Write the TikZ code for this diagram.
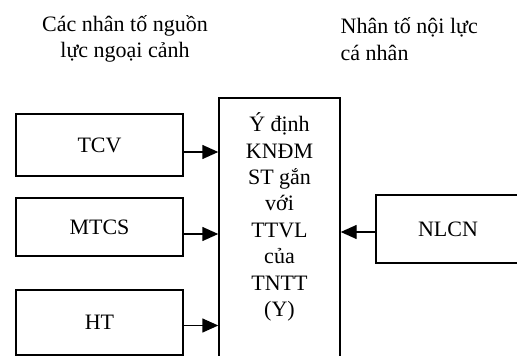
\documentclass[tikz,border=0pt]{standalone}
\usepackage{fontspec}
\setmainfont{Liberation Serif}
\usetikzlibrary{arrows.meta}
\begin{document}
\begin{tikzpicture}[x=1pt,y=-1pt,line width=1.4pt]
  \tikzstyle{vertex}=[inner sep=0pt,font=\fontsize{22}{26.4}\selectfont]
  \tikzstyle{factor}=[draw,rectangle,inner sep=0pt,font=\fontsize{22}{26.4}\selectfont]
  \tikzstyle{line} = [draw, -{Triangle[length=16pt,width=14pt]}]
  \clip (0,0) rectangle (517,356);
  % headers
  \node[vertex,align=center] (outer) at (125,39) {Các nhân tố nguồn\\lực ngoại cảnh};
  \node[vertex,align=left,anchor=west] (inner) at (340,39) {Nhân tố nội lực\\cá nhân};
  % factor boxes
  \node[factor,minimum width=167,minimum height=62] (TCV) at (99.5,145) {TCV};
  \node[factor,minimum width=167,minimum height=58] (MTCS) at (99.5,227) {MTCS};
  \node[factor,minimum width=167,minimum height=65] (HT) at (99.5,322.5) {HT};
  \node[factor,minimum width=144,minimum height=68] (NLCN) at (448,229) {NLCN};
  % intention box
  \node[factor,minimum width=121,minimum height=270] (Ybox) at (279.5,233) {};
  \node[vertex,align=center] (Ytext) at (279.5,217)
    {Ý định\\KNĐM\\ST gắn\\với\\TTVL\\của\\TNTT\\(Y)};
  % arrows
  \path[line] ([yshift=-7pt]TCV.east) -- ([yshift=-7pt]TCV.east -| Ybox.west);
  \path[line] ([yshift=-7pt]MTCS.east) -- ([yshift=-7pt]MTCS.east -| Ybox.west);
  \path[line] ([yshift=-3pt]HT.east) -- ([yshift=-3pt]HT.east -| Ybox.west);
  \path[line] ([yshift=-3pt]NLCN.west) -- ([yshift=-3pt]NLCN.west -| Ybox.east);
\end{tikzpicture}
\end{document}
